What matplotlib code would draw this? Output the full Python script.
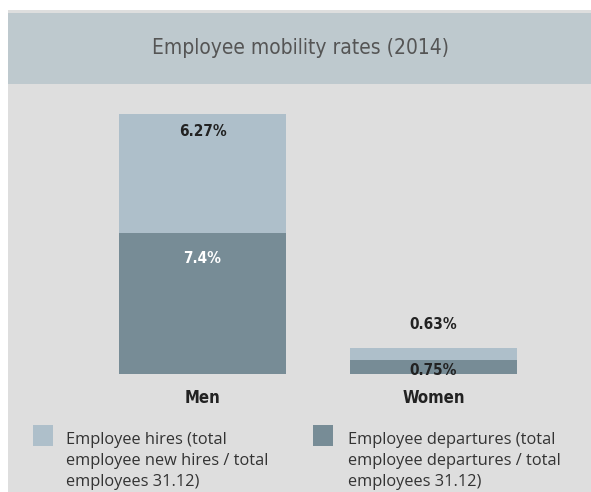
import matplotlib.pyplot as plt
from matplotlib.patches import Rectangle

# data
categories = ['Men', 'Women']
departures = [7.4, 0.75]
hires = [6.27, 0.63]
legend_labels = ['Employee hires (total\nemployee new hires / total\nemployees 31.12)',
                 'Employee departures (total\nemployee departures / total\nemployees 31.12)']
title = 'Employee mobility rates (2014)'

c_hires = '#aebfca'
c_dep = '#778c96'
W, H = 591, 492

fig = plt.figure(figsize=(W / 100, H / 100), dpi=100)
fig.patch.set_facecolor('white')

# background panels (pixel coords from top)
bg = fig.add_axes([0, 0, 1, 1])
bg.set_xlim(0, W)
bg.set_ylim(H, 0)
bg.axis('off')
bg.add_patch(Rectangle((8, 10), W - 8, H - 10, color='#dedede', lw=0))
bg.add_patch(Rectangle((8, 13), W - 8, 71, color='#bec9ce', lw=0))
bg.text(300, 48, title, ha='center', va='center', fontsize=15,
        color='#555555', family='DejaVu Sans', fontstretch='condensed')

# legend
bg.add_patch(Rectangle((33, 425), 20, 21, color=c_hires, lw=0))
bg.add_patch(Rectangle((313, 425), 20, 21, color=c_dep, lw=0))
for lx, lab in zip([66, 348], legend_labels):
    bg.text(lx, 432, lab, ha='left', va='top', fontsize=11.8,
            color='#333333', linespacing=1.42, family='Open Sans')

# bar axes: y=0 at pixel 374, 19.05 px per unit
y0, ytop = 374, 100
ax = fig.add_axes([0, (H - y0) / H, 1, (y0 - ytop) / H])
ax.set_ylim(0, (y0 - ytop) / 19.05)
ax.set_xlim(-202.5 / 231, (W - 202.5) / 231)
ax.axis('off')

x = range(len(categories))
ax.bar(x, departures, width=0.723, color=c_dep)
ax.bar(x, hires, width=0.723, bottom=departures, color=c_hires)

bold = dict(ha='center', va='center', fontsize=11, fontweight='bold',
            family='DejaVu Sans', fontstretch='condensed')
# label offsets (pixels, from segment top)
off_h = [-18, 23]
off_d = [-25, -11]
col_d = ['white', '#222222']
for i in x:
    top_h = departures[i] + hires[i]
    ax.annotate(f'{hires[i]}%', (i, top_h), xytext=(0, off_h[i]),
                textcoords='offset pixels', color='#222222', **bold)
    ax.annotate(f'{departures[i]}%', (i, departures[i]), xytext=(0, off_d[i]),
                textcoords='offset pixels', color=col_d[i], **bold)
    ax.annotate(categories[i], (i, 0), xytext=(0, -24), textcoords='offset pixels',
                color='#222222', **{**bold, 'fontsize': 12})

fig.savefig('out.png', dpi=100, facecolor='white')
